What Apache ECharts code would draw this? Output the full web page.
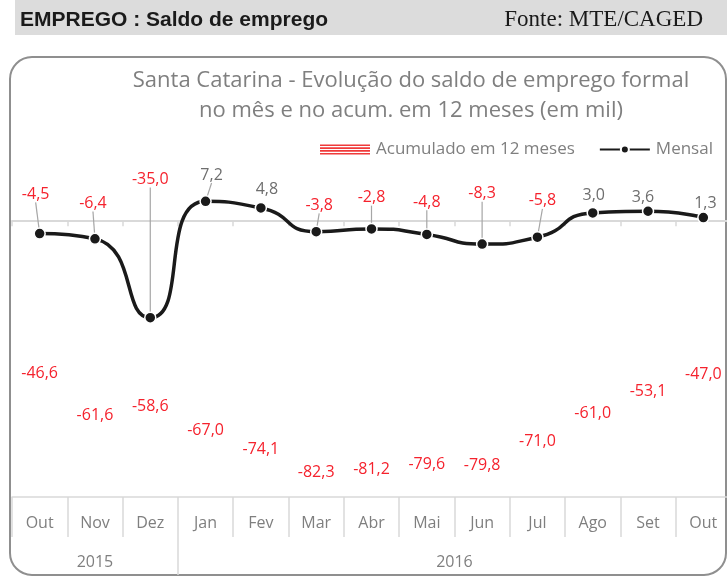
<!DOCTYPE html>
<html>
<head>
<meta charset="utf-8">
<script src="https://cdn.jsdelivr.net/npm/echarts@6.0.0/dist/echarts.min.js"></script>
<style>
  html, body { margin: 0; padding: 0; background: #fff; }
  #main { width: 727px; height: 576px; }
</style>
</head>
<body>
<div id="main"></div>
<script>
// dados (em mil)
var months = ['Out', 'Nov', 'Dez', 'Jan', 'Fev', 'Mar', 'Abr', 'Mai', 'Jun', 'Jul', 'Ago', 'Set', 'Out'];
var years = ['2015', '2016'];
var yearSpans = [3, 10];
var mensal = [-4.5, -6.4, -35.0, 7.2, 4.8, -3.8, -2.8, -4.8, -8.3, -5.8, 3.0, 3.6, 1.3];
var acumulado = [-46.6, -61.6, -58.6, -67.0, -74.1, -82.3, -81.2, -79.6, -79.8, -71.0, -61.0, -53.1, -47.0];

// deslocamento dos rotulos do Mensal (como no grafico original)
var labelDx = [-4, -2, 0, 6, 6, 3, 0, 0, 0, 5, 1, -5, 2];
var labelDy = [-20, -16, -119, -7, 1, -7, -12, -13, -31, -17, 2, 5, 5];
var labelLead = [true, true, true, true, false, true, true, true, true, true, false, false, false];

var RED = '#f5222d';
var GREY = '#7f7f7f';
var LIGHT = '#d9d9d9';
var FONT = '"Open Sans", sans-serif';

function fmt(v) { return v.toFixed(1).replace('.', ','); }

// centros e divisas dos anos no eixo
var yearCenters = [], yearBounds = [];
var start = 0;
yearSpans.forEach(function (n, i) {
  yearCenters.push(start + (n - 1) / 2);
  if (i < yearSpans.length - 1) yearBounds.push(start + n - 0.5);
  start += n;
});

var myChart = echarts.init(document.getElementById('main'));

var option = {
  animation: false,
  title: [{
    text: 'EMPREGO : Saldo de emprego',
    left: 20, top: 8, padding: 0,
    textStyle: { fontFamily: '"Liberation Sans", Arial, sans-serif', fontWeight: 'bold', fontSize: 21, lineHeight: 24, color: '#1a1a1a' }
  }, {
    text: 'Fonte: MTE/CAGED',
    right: 24, top: 7, padding: 0,
    textStyle: { fontFamily: '"Liberation Serif", serif', fontWeight: 'normal', fontSize: 23, lineHeight: 26, color: '#1a1a1a' }
  }],
  graphic: [{
    type: 'rect', z: -10, silent: true,
    shape: { x: 15, y: 0, width: 712, height: 35 },
    style: { fill: '#dcdcdc' }
  }, {
    type: 'rect', z: -10, silent: true,
    shape: { x: 10, y: 57, width: 716, height: 518, r: 22 },
    style: { fill: 'none', stroke: '#8f8f8f', lineWidth: 2 }
  }, {
    type: 'text', silent: true,
    style: {
      text: 'Santa Catarina - Evolução do saldo de emprego formal\nno mês e no acum. em 12 meses (em mil)',
      x: 411, y: 96, align: 'center', verticalAlign: 'middle',
      font: '22px "Open Sans", sans-serif', lineHeight: 30, fill: GREY
    }
  }],
  legend: {
    left: 320, top: 141, padding: 0,
    itemWidth: 50, itemHeight: 10, itemGap: 24,
    textStyle: { fontFamily: FONT, fontSize: 17, color: GREY, padding: [0, 0, 0, 1] },
    data: [{
      name: 'Acumulado em 12 meses',
      icon: 'path://M0,0H50V1.6H0Z M0,2.8H50V4.4H0Z M0,5.6H50V7.2H0Z M0,8.4H50V10H0Z',
      itemStyle: { color: '#f03a3a', borderWidth: 0 }
    }, {
      name: 'Mensal'
    }]
  },
  grid: { left: 12, right: -4, top: 166, bottom: 79, outerBoundsMode: 'none' },
  xAxis: [{
    type: 'category', data: months, position: 'bottom',
    axisLine: { onZero: false, lineStyle: { color: LIGHT, width: 1.5 } },
    axisTick: { show: true, length: 40, lineStyle: { color: LIGHT, width: 1.5 } },
    axisLabel: { margin: 18, fontFamily: FONT, fontSize: 16, color: GREY },
    splitLine: { show: false }
  }, {
    type: 'value', min: -0.5, max: 12.5, position: 'bottom',
    axisLine: { show: false, onZero: false },
    axisTick: { show: true, customValues: yearBounds, length: 78, lineStyle: { color: LIGHT, width: 1.5 } },
    axisLabel: {
      customValues: yearCenters, margin: 57, fontFamily: FONT, fontSize: 16, color: GREY,
      formatter: function (v) { var i = yearCenters.indexOf(v); return i < 0 ? '' : years[i]; }
    },
    splitLine: { show: false }
  }, {
    type: 'category', data: months, position: 'bottom',
    axisLine: { onZero: true, lineStyle: { color: LIGHT, width: 2 } },
    axisTick: { show: true, length: 5, lineStyle: { color: LIGHT, width: 1.5 } },
    axisLabel: { show: false },
    splitLine: { show: false }
  }],
  yAxis: {
    type: 'value', min: -100, max: 20, show: false, splitLine: { show: false }
  },
  series: [{
    name: 'Acumulado em 12 meses',
    type: 'bar', xAxisIndex: 0, barWidth: '55%',
    itemStyle: { color: 'rgba(0,0,0,0)' },
    label: {
      show: true, position: 'bottom', distance: 16,
      fontFamily: FONT, fontSize: 16, color: RED,
      formatter: function (p) { return fmt(p.value); }
    },
    data: acumulado
  }, {
    name: 'Mensal',
    type: 'line', xAxisIndex: 0, smooth: 0.6, z: 5,
    symbol: 'circle', symbolSize: 11,
    lineStyle: { color: '#1a1a1a', width: 3.5 },
    itemStyle: { color: '#1a1a1a', borderColor: '#fff', borderWidth: 1.5 },
    label: {
      show: true, position: 'top', distance: 5,
      fontFamily: FONT, fontSize: 16,
      formatter: function (p) { return fmt(p.value); }
    },
    labelLine: { show: true, lineStyle: { color: '#a6a6a6', width: 1.2 } },
    labelLayout: function (p) {
      return { dx: labelDx[p.dataIndex], dy: labelDy[p.dataIndex] };
    },
    data: mensal.map(function (v, i) {
      return {
        value: v,
        label: { color: v < 0 ? RED : '#6e6e6e' },
        labelLine: { show: labelLead[i] }
      };
    })
  }]
};

myChart.setOption(option);
</script>
</body>
</html>
